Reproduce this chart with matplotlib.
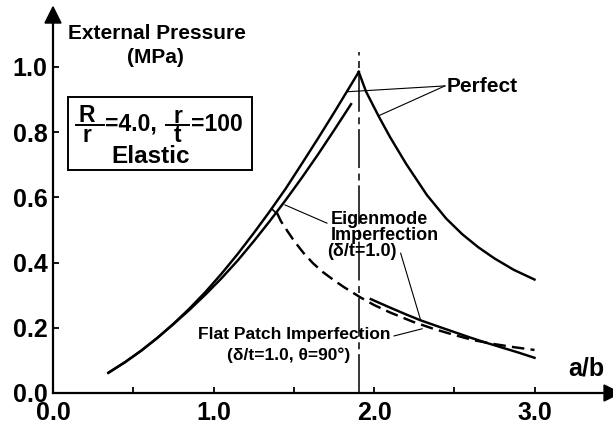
import matplotlib
matplotlib.use("Agg")
import matplotlib.pyplot as plt
from matplotlib.lines import Line2D
from matplotlib.patches import Rectangle, Polygon

plt.rcParams['font.family'] = ['Liberation Sans', 'DejaVu Sans']
plt.rcParams['font.weight'] = 'bold'
plt.rcParams['lines.scale_dashes'] = False

# ---- data -------------------------------------------------------------
# Perfect shell, ascending branch (a/b, pressure MPa)
perfect_up_ab = [0.345, 0.45, 0.55, 0.65, 0.75, 0.85, 0.95, 1.05, 1.15, 1.25,
                 1.35, 1.45, 1.55, 1.65, 1.75, 1.85, 1.905]
perfect_up_p = [0.062, 0.095, 0.130, 0.169, 0.212, 0.259, 0.310, 0.366, 0.426,
                0.490, 0.557, 0.627, 0.703, 0.780, 0.859, 0.940, 0.985]
# Perfect shell, descending branch
perfect_dn_ab = [1.905, 1.95, 2.03, 2.1, 2.2, 2.33, 2.45, 2.55, 2.65, 2.75, 2.87, 3.0]
perfect_dn_p = [0.985, 0.925, 0.848, 0.785, 0.703, 0.607, 0.535, 0.487, 0.447,
                0.413, 0.378, 0.348]

# Eigenmode imperfection (delta/t = 1.0)
eigen_up_ab = [0.345, 0.45, 0.55, 0.65, 0.75, 0.85, 0.95, 1.05, 1.15, 1.25,
               1.35, 1.45, 1.55, 1.65, 1.75, 1.857]
eigen_up_p = [0.062, 0.095, 0.130, 0.169, 0.211, 0.255, 0.302, 0.352, 0.406,
              0.465, 0.527, 0.592, 0.660, 0.731, 0.805, 0.886]
eigen_dn_ab = [1.98, 2.1, 2.2, 2.29, 2.4, 2.5, 2.6, 2.7, 2.8, 2.9, 3.0]
eigen_dn_p = [0.288, 0.262, 0.241, 0.223, 0.204, 0.187, 0.170, 0.154, 0.139,
              0.124, 0.108]

# Flat patch imperfection (delta/t = 1.0, theta = 90 deg)
join_ab = [1.363, 1.392]
join_p = [0.565, 0.551]
flat_ab = [1.395, 1.42, 1.456, 1.5, 1.56, 1.62, 1.684, 1.75, 1.809, 1.913, 2.0,
           2.1, 2.245, 2.37, 2.5, 2.62, 2.75, 2.88, 3.0]
flat_p = [0.553, 0.527, 0.500, 0.468, 0.430, 0.398, 0.370, 0.346, 0.326, 0.294,
          0.270, 0.247, 0.218, 0.197, 0.178, 0.162, 0.150, 0.140, 0.132]

peak_ab = 1.905
x_major = [0.0, 1.0, 2.0, 3.0]
x_minor = [0.5, 1.5, 2.5]
y_ticks = [0.0, 0.2, 0.4, 0.6, 0.8, 1.0]
y_labels = ['0.0', '0.2', '0.4', '0.6', '0.8', '1.0']
x_labels = ['0.0', '1.0', '2.0', '3.0']

# ---- figure -----------------------------------------------------------
W, H = 613, 426
fig = plt.figure(figsize=(W / 100, H / 100), dpi=100)
ax = fig.add_axes([53 / W, 33 / H, 560 / W, 385 / H])
XMAX, YMAX = 560 / 160.5, 385 / 326
ax.set_xlim(0, XMAX)
ax.set_ylim(0, YMAX)


def fp(x, y):
    """pixel position (from top-left) -> figure fraction"""
    return x / W, 1 - y / H


for s in ('top', 'right'):
    ax.spines[s].set_visible(False)
for s in ('left', 'bottom'):
    ax.spines[s].set_linewidth(1.6)
ax.spines['left'].set_bounds(0, 0.961 * YMAX)
ax.spines['bottom'].set_bounds(0, 0.984 * XMAX)

# arrow heads on the axes
ax.add_patch(Polygon([(-0.0143, 0.961), (0.0143, 0.961), (0, 1.003)],
                     closed=True, color='black', transform=ax.transAxes,
                     clip_on=False))
ax.add_patch(Polygon([(0.984, -0.0208), (0.984, 0.0208), (1.013, 0)],
                     closed=True, color='black', transform=ax.transAxes,
                     clip_on=False))

ax.set_xticks(x_major)
ax.set_xticklabels(x_labels)
ax.set_xticks(x_minor, minor=True)
ax.set_yticks(y_ticks)
ax.set_yticklabels(y_labels)
ax.tick_params(axis='both', which='both', direction='in', length=4.5, width=1.3)
ax.tick_params(axis='x', which='major', labelsize=18, pad=6)
ax.tick_params(axis='y', which='major', labelsize=18, pad=4)
for lab in ax.get_xticklabels() + ax.get_yticklabels():
    lab.set_fontweight('bold')

lw = 1.75
ax.plot(perfect_up_ab, perfect_up_p, color='black', lw=lw, solid_joinstyle='miter')
ax.plot(perfect_dn_ab, perfect_dn_p, color='black', lw=lw)
ax.plot(eigen_up_ab, eigen_up_p, color='black', lw=lw)
ax.plot(eigen_dn_ab, eigen_dn_p, color='black', lw=lw)
ax.plot(join_ab, join_p, color='black', lw=1.2)
ax.plot(flat_ab, flat_p, color='black', lw=lw, dashes=(9, 4.5))

# vertical reference line at the peak
ax.plot([peak_ab, peak_ab], [0, 1.046], color='black', lw=1.1,
        dashes=(28, 3.5, 5, 4))

# leader lines
tl = dict(color='black', lw=0.8)
ax.plot([2.442, 1.83], [0.942, 0.924], **tl)
ax.plot([2.442, 2.027], [0.942, 0.850], **tl)
ax.plot([1.707, 1.445], [0.521, 0.577], **tl)
ax.plot([2.166, 2.291], [0.429, 0.223], **tl)
ax.plot([2.125, 2.30], [0.175, 0.197], **tl)

# annotations
ax.text(2.455, 0.924, 'Perfect', fontsize=15, fontweight='bold', va='baseline')
ax.text(1.732, 0.518, 'Eigenmode', fontsize=13, fontweight='bold', va='baseline')
ax.text(1.732, 0.469, 'Imperfection', fontsize=13, fontweight='bold', va='baseline')
ax.text(1.71, 0.419, '(δ/t=1.0)', fontsize=13, fontweight='bold', va='baseline')
ax.text(1.501, 0.166, 'Flat Patch Imperfection', fontsize=12.5, fontweight='bold',
        ha='center', va='baseline')
ax.text(1.47, 0.101, '(δ/t=1.0, θ=90°)', fontsize=12.5, fontweight='bold',
        ha='center', va='baseline')

# axis titles
fig.text(*fp(156.5, 39.3), 'External Pressure', fontsize=15, fontweight='bold',
         ha='center', va='baseline')
fig.text(*fp(155.7, 63), '(MPa)', fontsize=15, fontweight='bold',
         ha='center', va='baseline')
fig.text(*fp(586, 376), 'a/b', fontsize=18, fontweight='bold',
         ha='center', va='baseline')

# parameter box
fig.add_artist(Rectangle(fp(67.7, 170), (252 - 67.7) / W, (170 - 96.7) / H,
                         fill=False, lw=1.4, edgecolor='black',
                         transform=fig.transFigure))
bs = 16.5
fig.text(*fp(87, 125.5), 'R\nr', fontsize=bs, fontweight='bold', ha='center',
         va='center', multialignment='center', linespacing=0.78)
fig.add_artist(Line2D([76 / W, 104 / W], [1 - 124.5 / H] * 2, color='black', lw=1.4,
                      transform=fig.transFigure))
fig.text(*fp(105, 130.7), '=4.0,', fontsize=bs, fontweight='bold', ha='left', va='baseline')
fig.text(*fp(177.6, 126), 'r\nt', fontsize=bs, fontweight='bold', ha='center',
         va='center', multialignment='center', linespacing=0.78)
fig.add_artist(Line2D([166 / W, 188.5 / W], [1 - 124.5 / H] * 2, color='black', lw=1.4,
                      transform=fig.transFigure))
fig.text(*fp(191, 130.7), '=100', fontsize=bs, fontweight='bold', ha='left', va='baseline')
fig.text(*fp(150.3, 163), 'Elastic', fontsize=17.5, fontweight='bold', ha='center', va='baseline')

fig.savefig('out.png', dpi=100)
